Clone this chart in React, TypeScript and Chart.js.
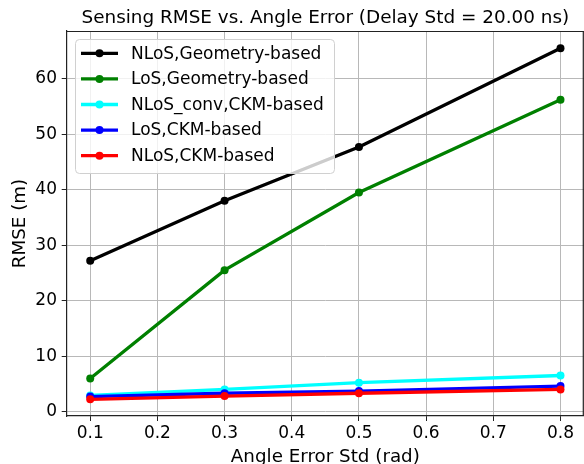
import React, { useEffect, useRef } from "react";
import { Chart, registerables } from "chart.js";

Chart.register(...registerables);

const angleStd = [0.1, 0.3, 0.5, 0.8];
const seriesLabels = [
  "NLoS,Geometry-based",
  "LoS,Geometry-based",
  "NLoS_conv,CKM-based",
  "LoS,CKM-based",
  "NLoS,CKM-based",
];
const seriesColors = ["#000000", "#008000", "#00ffff", "#0000ff", "#ff0000"];
const nlosGeo = [27.2, 38.0, 47.7, 65.5];
const losGeo = [5.95, 25.5, 39.5, 56.2];
const nlosConvCkm = [2.9, 4.0, 5.2, 6.5];
const losCkm = [2.7, 3.3, 3.7, 4.6];
const nlosCkm = [2.2, 2.8, 3.3, 4.0];
const xTicks = [0.1, 0.2, 0.3, 0.4, 0.5, 0.6, 0.7, 0.8];
const yTicks = [0, 10, 20, 30, 40, 50, 60];

const FONT = "'DejaVu Sans', sans-serif";

const frameAndLegend = {
  id: "frameAndLegend",
  afterDraw(chart: any) {
    const ctx = chart.ctx;
    const a = chart.chartArea;
    ctx.save();
    // top spine
    ctx.strokeStyle = "#222";
    ctx.lineWidth = 1.2;
    ctx.beginPath();
    ctx.moveTo(a.left, Math.round(a.top) + 0.5);
    ctx.lineTo(a.right, Math.round(a.top) + 0.5);
    ctx.stroke();
    // right spine
    ctx.beginPath();
    ctx.moveTo(a.right - 0.7, a.top);
    ctx.lineTo(a.right - 0.7, a.bottom);
    ctx.stroke();

    // legend box
    const bx = 75.5, by = 39.5, bw = 259, bh = 134, r = 4;
    ctx.beginPath();
    ctx.moveTo(bx + r, by);
    ctx.lineTo(bx + bw - r, by);
    ctx.quadraticCurveTo(bx + bw, by, bx + bw, by + r);
    ctx.lineTo(bx + bw, by + bh - r);
    ctx.quadraticCurveTo(bx + bw, by + bh, bx + bw - r, by + bh);
    ctx.lineTo(bx + r, by + bh);
    ctx.quadraticCurveTo(bx, by + bh, bx, by + bh - r);
    ctx.lineTo(bx, by + r);
    ctx.quadraticCurveTo(bx, by, bx + r, by);
    ctx.closePath();
    ctx.fillStyle = "rgba(255,255,255,0.8)";
    ctx.fill();
    ctx.strokeStyle = "#d0d0d0";
    ctx.lineWidth = 1;
    ctx.stroke();

    ctx.font = `17px ${FONT}`;
    ctx.textBaseline = "middle";
    ctx.textAlign = "left";
    chart.data.datasets.forEach((ds: any, i: number) => {
      const y = 53.3 + i * 25.6;
      ctx.strokeStyle = ds.borderColor;
      ctx.lineWidth = 3.3;
      ctx.beginPath();
      ctx.moveTo(81, y);
      ctx.lineTo(118, y);
      ctx.stroke();
      ctx.fillStyle = ds.borderColor;
      ctx.beginPath();
      ctx.arc(99.5, y, 4, 0, Math.PI * 2);
      ctx.fill();
      ctx.fillStyle = "#000";
      ctx.fillText(ds.label, 131, y + 0.8);
    });
    ctx.restore();
  },
};

export default function App() {
  const ref = useRef<HTMLCanvasElement>(null);
  useEffect(() => {
    if (!ref.current) return;
    const values = [nlosGeo, losGeo, nlosConvCkm, losCkm, nlosCkm];
    const chart = new Chart(ref.current, {
      type: "line",
      data: {
        datasets: values.map((v, i) => ({
          label: seriesLabels[i],
          data: angleStd.map((x, j) => ({ x, y: v[j] })),
          borderColor: seriesColors[i],
          backgroundColor: seriesColors[i],
          pointBackgroundColor: seriesColors[i],
          pointBorderWidth: 0,
          pointRadius: 4,
          borderWidth: 3.3,
          tension: 0,
          fill: false,
          order: values.length - i,
        })),
      },
      options: {
        responsive: false,
        animation: false,
        devicePixelRatio: 1,
        layout: { padding: 0, autoPadding: false },
        plugins: {
          legend: { display: false },
          tooltip: { enabled: false },
          title: {
            display: true,
            fullSize: false,
            text: "Sensing RMSE vs. Angle Error (Delay Std = 20.00 ns)",
            color: "#000",
            font: { family: FONT, size: 18.4, weight: "normal", lineHeight: 1.2 },
            padding: { top: 7.6, bottom: 1.4 },
          },
        },
        scales: {
          x: {
            type: "linear",
            min: 0.065,
            max: 0.835,
            afterBuildTicks: (s: any) => {
              s.ticks = xTicks.map((v) => ({ value: v }));
            },
            afterFit: (s: any) => {
              s.height = 48;
            },
            ticks: {
              color: "#000",
              font: { family: FONT, size: 17 },
              padding: 2,
              maxRotation: 0,
              autoSkip: false,
              callback: (v: any) => Number(v).toFixed(1),
            },
            grid: {
              color: "#b8b8b8",
              lineWidth: 1,
              drawTicks: true,
              tickLength: 5,
              tickColor: "#222",
            },
            border: { color: "#222", width: 1.2 },
            title: {
              display: true,
              text: "Angle Error Std (rad)",
              color: "#000",
              font: { family: FONT, size: 18.3, lineHeight: 1.2 },
              padding: { top: 0, bottom: -4.7 },
            },
          },
          y: {
            type: "linear",
            min: -0.8,
            max: 68.6,
            afterBuildTicks: (s: any) => {
              s.ticks = yTicks.map((v) => ({ value: v }));
            },
            afterFit: (s: any) => {
              s.width = 66.7;
            },
            ticks: {
              color: "#000",
              font: { family: FONT, size: 17 },
              padding: 4.7,
              autoSkip: false,
            },
            grid: {
              color: "#b8b8b8",
              lineWidth: 1,
              drawTicks: true,
              tickLength: 5,
              tickColor: "#222",
            },
            border: { color: "#222", width: 1.2 },
            title: {
              display: true,
              text: "RMSE (m)",
              color: "#000",
              font: { family: FONT, size: 18.3, lineHeight: 1.2 },
              padding: { top: 9, bottom: 0 },
            },
          },
        },
      },
      plugins: [frameAndLegend],
    });
    return () => chart.destroy();
  }, []);
  return (
    <div style={{ position: "absolute", left: 0, top: 0, width: 584, height: 464 }}>
      <canvas ref={ref} width={584} height={464} />
    </div>
  );
}
